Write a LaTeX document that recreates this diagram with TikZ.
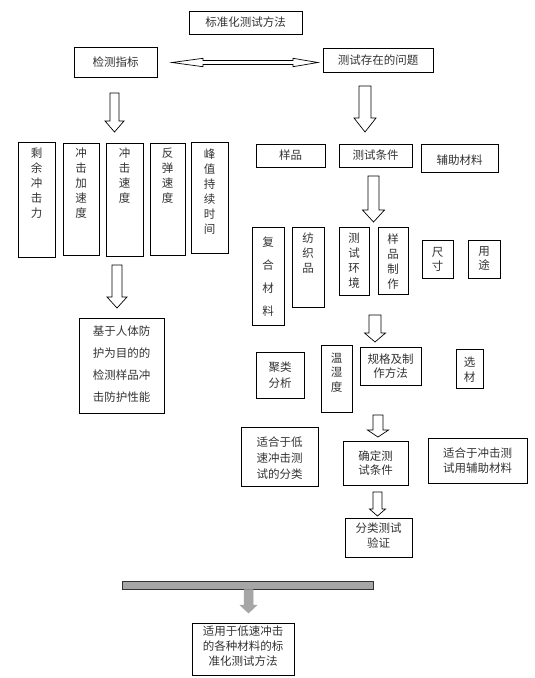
\documentclass[tikz,border=0pt]{standalone}
\usepackage{fontspec}
\newfontfamily\cjk{Noto Sans CJK SC}
\definecolor{txtc}{HTML}{333333}
\definecolor{barg}{HTML}{A6A6A6}
\tikzset{
  box/.style={draw=black, line width=0.9pt, inner sep=0pt, fill=white},
  ls/.style={font=\cjk\fontsize{11.5}{#1}\selectfont, text=txtc, align=center, inner sep=0pt},
  blockarrow/.style={draw=black, line width=0.7pt, fill=white, line join=miter},
  grayarrow/.style={draw=barg, line width=0.5pt, fill=barg},
}
\newcommand\mybox[6]{\node[box, minimum width={#4-#2}, minimum height={#5-#3}] (#1) at ({(#2+#4)/2},{(#3+#5)/2}) {#6};}
% cx, half shaft, top, half head, head start, tip
\newcommand\darrow[7][blockarrow]{\draw[#1] ({#2-#3},#4) -- ({#2+#3},#4) -- ({#2+#3},#6) -- ({#2+#5},#6) -- (#2,#7) -- ({#2-#5},#6) -- ({#2-#3},#6) -- cycle;}
\begin{document}
\begin{tikzpicture}[x=1pt,y=-1pt]
\useasboundingbox (0,0) rectangle (535,678);
\fill[white] (0,0) rectangle (535,678);

% top
\mybox{title}{189}{11}{302}{34}{}
\node[ls=14] (titleT) at (title) {标准化测试方法};
\mybox{jczb}{74}{47}{157}{77}{}
\node[ls=14] (jczbT) at (jczb) {检测指标};
\mybox{wenti}{323}{48}{433}{72}{}
\node[ls=14] (wentiT) at (wenti) {测试存在的问题};

% double arrow
\draw[blockarrow] (172,62.5) -- (203,58.3) -- (203,60.5) -- (293,60.5) -- (293,58.3) -- (318,62.5) -- (293,66.7) -- (293,64.5) -- (203,64.5) -- (203,66.7) -- cycle;
\draw[line width=1.5pt] (203,60.5) -- (293,60.5) (203,64.5) -- (293,64.5);

% arrows
\darrow{114.5}{4.5}{93}{9.5}{121}{132}
\darrow{365}{6}{86}{11}{118}{132}
\darrow{373.5}{5.5}{176}{11}{210}{222}
\darrow{375}{6}{315}{10.5}{333}{342}
\darrow{378}{5}{415}{10.5}{430}{437}
\darrow{377.5}{4.5}{492}{8}{509}{516}
\darrow{117}{5}{265}{10}{297}{308}

% left column
\mybox{b1}{18}{142}{55}{257}{}
\node[ls=15, anchor=north] (b1T) at ([yshift=-6pt]b1.north) {剩\\余\\冲\\击\\力};
\mybox{b2}{63}{143}{99}{255}{}
\node[ls=15, anchor=north] (b2T) at ([yshift=-5pt]b2.north) {冲\\击\\加\\速\\度};
\mybox{b3}{106}{143}{143}{256}{}
\node[ls=15, anchor=north] (b3T) at ([yshift=-5pt]b3.north) {冲\\击\\速\\度};
\mybox{b4}{150}{143}{185}{255}{}
\node[ls=15, anchor=north] (b4T) at ([yshift=-5pt]b4.north) {反\\弹\\速\\度};
\mybox{b5}{191}{142}{228}{253}{}
\node[ls=15, anchor=north] (b5T) at ([yshift=-7pt]b5.north) {峰\\值\\持\\续\\时\\间};

\mybox{jiyu}{79}{318}{164}{413}{}
\node[ls=22] (jiyuT) at ([yshift=1pt]jiyu.center) {基于人体防\\护为目的的\\检测样品冲\\击防护性能};

% right: row 1
\mybox{yp}{256}{144}{325}{167}{}
\node[ls=14] (ypT) at (yp) {样品};
\mybox{cstj}{339}{144}{412}{167}{}
\node[ls=14] (cstjT) at (cstj) {测试条件};
\mybox{fzcl}{421}{144}{498}{172}{}
\node[ls=14] (fzclT) at ([yshift=-2pt]fzcl.center) {辅助材料};

% row 2
\mybox{fhcl}{252}{227}{284}{325}{}
\node[ls=23] (fhclT) at ([yshift=-1pt]fhcl.center) {复\\合\\材\\料};
\mybox{fzp}{292}{227}{324}{307}{}
\node[ls=15, anchor=north] (fzpT) at ([yshift=-6pt]fzp.north) {纺\\织\\品};
\mybox{cshj}{339}{227}{369}{295}{}
\node[ls=15] (cshjT) at (cshj) {测\\试\\环\\境};
\mybox{ypzz}{378}{227}{408}{294}{}
\node[ls=15] (ypzzT) at ([yshift=-1pt]ypzz.center) {样\\品\\制\\作};
\mybox{cc}{422}{240}{453}{278}{}
\node[ls=14] (ccT) at (cc) {尺\\寸};
\mybox{yt}{468}{240}{500}{278}{}
\node[ls=14] (ytT) at (yt) {用\\途};

% row 3
\mybox{jl}{256}{352}{304}{398}{}
\node[ls=16] (jlT) at (jl) {聚类\\分析};
\mybox{wsd}{321}{345}{352}{412}{}
\node[ls=14.5, anchor=north] (wsdT) at ([yshift=-8pt]wsd.north) {温\\湿\\度};
\mybox{gg}{360}{347}{421}{385}{}
\node[ls=13.5] (ggT) at (gg) {规格及制\\作方法};
\mybox{xc}{456}{349}{483}{388}{}
\node[ls=15.5] (xcT) at ([yshift=-1pt]xc.center) {选\\材};

% row 4
\mybox{dsfl}{241}{427}{318}{486}{}
\node[ls=16] (dsflT) at ([yshift=-2pt]dsfl.center) {适合于低\\速冲击测\\试的分类};
\mybox{qd}{343}{441}{408}{485}{}
\node[ls=14.5] (qdT) at (qd) {确定测\\试条件};
\mybox{fz}{428}{438}{527}{483}{}
\node[ls=15] (fzT) at (fz) {适合于冲击测\\试用辅助材料};

% row 5
\mybox{yz}{345}{518}{412}{557}{}
\node[ls=15] (yzT) at ([yshift=1.5pt]yz.center) {分类测试\\验证};

% bottom
\draw[draw=black!80, line width=0.8pt, fill=barg] (122,581) rectangle (373,589);
\darrow[grayarrow]{248.5}{4.5}{589.5}{8.5}{605}{613}
\mybox{final}{192}{623}{294}{675}{}
\node[ls=15] (finalT) at ([yshift=3pt]final.center) {适用于低速冲击\\的各种材料的标\\准化测试方法};
\end{tikzpicture}
\end{document}
